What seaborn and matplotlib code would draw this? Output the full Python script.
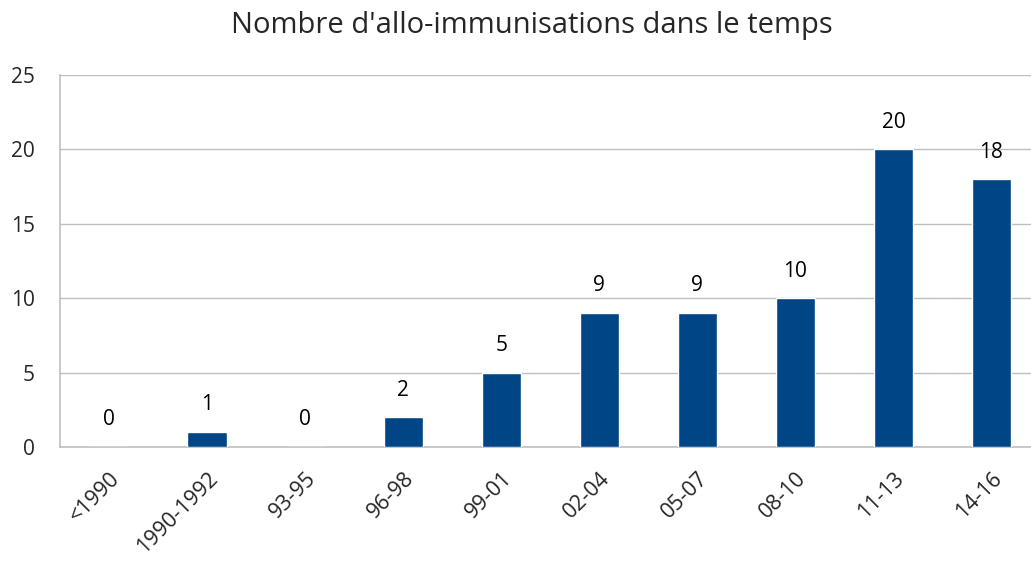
import matplotlib
matplotlib.use("Agg")
import matplotlib.pyplot as plt
import seaborn as sns
import pandas as pd

# Data
periods = ["<1990", "1990-1992", "93-95", "96-98", "99-01",
           "02-04", "05-07", "08-10", "11-13", "14-16"]
counts = [0, 1, 0, 2, 5, 9, 9, 10, 20, 18]
y_ticks = [0, 5, 10, 15, 20, 25]

df = pd.DataFrame({"periode": periods, "nombre": counts})

sns.set_style("white")
plt.rcParams["font.family"] = ["Open Sans", "DejaVu Sans"]

fig = plt.figure(figsize=(10.31, 5.62), dpi=100)
# plot area runs slightly past the right edge, as in the original
ax = fig.add_axes([0.0582, 0.2046, 0.951, 0.6619])

sns.barplot(data=df, x="periode", y="nombre", color="#004586",
            saturation=1, width=0.40, ax=ax, zorder=3)

# Value labels above each bar
for i, v in enumerate(counts):
    ax.annotate(str(v), (i, v), xytext=(0, 12), textcoords="offset points",
                ha="center", va="bottom", fontsize=15, color="#000000")

ax.set_ylim(0, 25)
ax.set_xlim(-0.5, len(periods) - 0.5)
ax.set_yticks(y_ticks)
ax.yaxis.grid(True, color="#BFBFBF", linewidth=1, zorder=0)
ax.set_axisbelow(True)

for side in ["top", "right"]:
    ax.spines[side].set_visible(False)
for side in ["left", "bottom"]:
    ax.spines[side].set_color("#BFBFBF")
    ax.spines[side].set_linewidth(1.2)

ax.tick_params(axis="y", length=0, labelsize=15, pad=18)
ax.tick_params(axis="x", length=0, labelsize=15.5, pad=15)
plt.setp(ax.get_xticklabels(), rotation=45, ha="right", rotation_mode="anchor")
ax.set_xlabel("")
ax.set_ylabel("")
fig.suptitle("Nombre d'allo-immunisations dans le temps", fontsize=21,
             x=0.516, y=0.955, va="center")

fig.savefig("out.png", dpi=100)
